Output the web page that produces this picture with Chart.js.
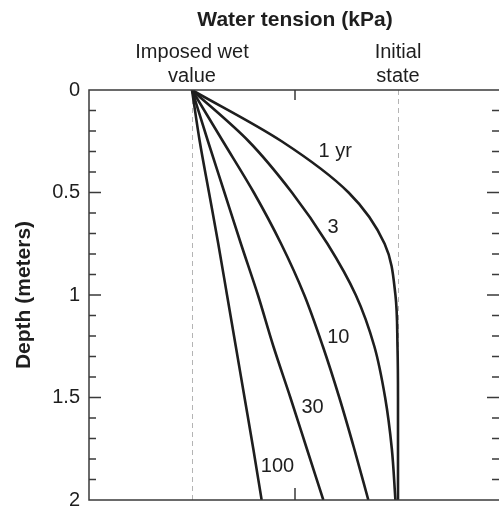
<!DOCTYPE html>
<html>
<head>
<meta charset="utf-8">
<script src="https://cdn.jsdelivr.net/npm/chart.js@4"></script>
<style>
  html, body { margin: 0; padding: 0; overflow: hidden; background: #fff; }
  canvas { display: block; }
</style>
</head>
<body>
<canvas id="tensionChart" width="501" height="512"></canvas>
<script>
// depth (m) at which each curve was read
const depths = [0, 0.25, 0.5, 0.75, 1, 1.25, 1.5, 1.75, 2];

// water tension, in axis units (1 = imposed wet value, 3 = initial state)
const yr1   = [1, 1.87, 2.52, 2.87, 2.975, 2.995, 3, 3, 3];
const yr3   = [1, 1.55, 1.97, 2.315, 2.59, 2.77, 2.875, 2.94, 2.975];
const yr10  = [1, 1.30, 1.60, 1.865, 2.09, 2.27, 2.43, 2.575, 2.712];
const yr30  = [1, 1.155, 1.315, 1.475, 1.64, 1.79, 1.955, 2.115, 2.275];
const yr100 = [1, 1.075, 1.165, 1.255, 1.34, 1.425, 1.51, 1.595, 1.676];

const curveLabels = ['1 yr', '3', '10', '30', '100'];
const labelX = [2.39, 2.37, 2.42, 2.17, 1.83];
const labelY = [0.30, 0.67, 1.205, 1.55, 1.835];

const yTicks = [0, 0.5, 1, 1.5, 2];
const minorTicks = [0.1, 0.2, 0.3, 0.4, 0.6, 0.7, 0.8, 0.9, 1.1, 1.2, 1.3, 1.4, 1.6, 1.7, 1.8, 1.9];

const FONT = 'Liberation Sans, Arial, Helvetica, sans-serif';
const INK = '#1e1e1e';

function toPoints(vals) {
    return depths.map((d, i) => ({ x: vals[i], y: d }));
}

// frame, inward ticks and curve labels
const framePlugin = {
    id: 'frame',
    afterDraw(chart) {
        const c = chart.ctx, a = chart.chartArea;
        const xs = chart.scales.x, ys = chart.scales.y;
        c.save();
        c.strokeStyle = '#3a3a3a';
        c.lineWidth = 1.5;
        c.strokeRect(a.left, a.top, a.right - a.left, a.bottom - a.top);
        c.beginPath();
        yTicks.slice(1, -1).forEach(v => {
            const py = ys.getPixelForValue(v);
            c.moveTo(a.left, py); c.lineTo(a.left + 12, py);
            c.moveTo(a.right, py); c.lineTo(a.right - 14, py);
        });
        minorTicks.forEach(v => {
            const py = ys.getPixelForValue(v);
            c.moveTo(a.left, py); c.lineTo(a.left + 7, py);
            c.moveTo(a.right, py); c.lineTo(a.right - 9, py);
        });
        const mx = xs.getPixelForValue(2);
        c.moveTo(mx, a.top); c.lineTo(mx, a.top + 10);
        c.moveTo(mx, a.bottom); c.lineTo(mx, a.bottom - 12);
        c.stroke();

        c.fillStyle = INK;
        c.font = '20px ' + FONT;
        c.textAlign = 'center';
        c.textBaseline = 'middle';
        curveLabels.forEach((t, i) => {
            c.fillText(t, xs.getPixelForValue(labelX[i]), ys.getPixelForValue(labelY[i]));
        });
        c.restore();
    }
};

const series = [yr1, yr3, yr10, yr30, yr100];

new Chart(document.getElementById('tensionChart'), {
    type: 'line',
    data: {
        datasets: series.map((s, i) => ({
            label: curveLabels[i],
            data: toPoints(s),
            borderColor: INK,
            borderWidth: 2.6,
            pointRadius: 0,
            cubicInterpolationMode: 'monotone',
            fill: false
        }))
    },
    options: {
        indexAxis: 'y',
        responsive: false,
        animation: false,
        layout: { padding: { left: 0, right: 0, top: 0, bottom: 12 } },
        plugins: { legend: { display: false }, tooltip: { enabled: false } },
        scales: {
            x: {
                type: 'linear',
                position: 'top',
                min: 0,
                max: 4,
                afterFit(scale) {
                    scale.height = 90;
                    scale.paddingLeft = 0;
                    scale.paddingRight = 0;
                },
                title: {
                    display: true,
                    text: 'Water tension (kPa)',
                    color: INK,
                    font: { family: FONT, size: 21, weight: 'bold' },
                    padding: { top: 8, bottom: 0 }
                },
                border: { display: false, dash: [5, 4] },
                grid: {
                    drawTicks: false,
                    lineWidth: 1,
                    color: ctx => (ctx.tick && (ctx.tick.value === 1 || ctx.tick.value === 3)) ? '#b4b4b4' : 'rgba(0,0,0,0)'
                },
                ticks: {
                    stepSize: 1,
                    autoSkip: false,
                    padding: 2,
                    color: INK,
                    font: { family: FONT, size: 20 },
                    maxRotation: 0,
                    callback: v => v === 1 ? ['Imposed wet', 'value'] : (v === 3 ? ['Initial', 'state'] : '')
                }
            },
            y: {
                type: 'linear',
                reverse: true,
                min: 0,
                max: 2,
                afterFit(scale) {
                    scale.width = 89;
                    scale.paddingTop = 0;
                    scale.paddingBottom = 0;
                },
                title: {
                    display: true,
                    text: 'Depth (meters)',
                    color: INK,
                    font: { family: FONT, size: 21, weight: 'bold' },
                    padding: { top: 12, bottom: 0 }
                },
                border: { display: false },
                grid: { display: false, drawTicks: false },
                ticks: {
                    stepSize: 0.5,
                    padding: 9,
                    color: INK,
                    font: { family: FONT, size: 20 },
                    callback: v => String(v)
                }
            }
        }
    },
    plugins: [framePlugin]
});
</script>
</body>
</html>
